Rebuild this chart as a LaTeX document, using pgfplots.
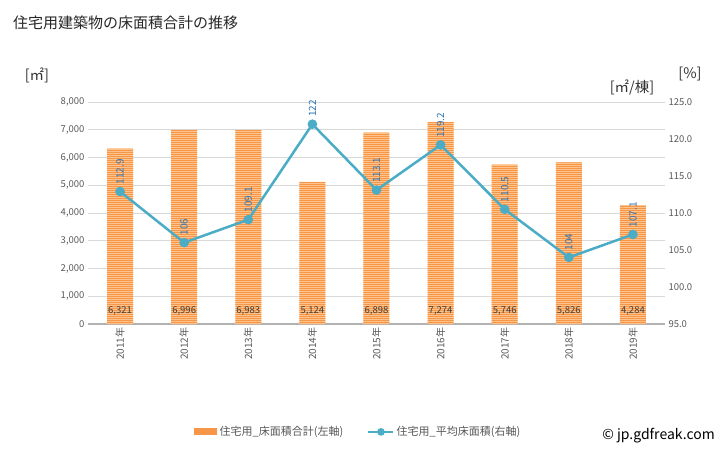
\documentclass[border=0pt]{standalone}
\usepackage{pgfplots}
\pgfplotsset{compat=1.18}
\usepackage{fontspec}
\setmainfont{Noto Sans CJK JP}
\usetikzlibrary{patterns.meta}
\definecolor{barfill}{RGB}{252,196,140}
\definecolor{barline}{RGB}{247,150,70}
\definecolor{linec}{RGB}{75,172,198}
\definecolor{lblc}{RGB}{46,117,182}
\definecolor{tickc}{RGB}{89,89,89}
\definecolor{gridc}{RGB}{217,217,217}
\begin{document}
\begin{tikzpicture}[x=1pt,y=1pt]
\path[use as bounding box] (0,0) rectangle (728,450);
\node[anchor=west, font=\fontsize{15}{17}\selectfont, text=black!85, inner sep=0] at (13,427) {住宅用建築物の床面積合計の推移};
\node[font=\fontsize{14.5}{16}\selectfont, text=black!80, inner sep=0] at (37,375) {[㎡]};
\node[font=\fontsize{14.5}{16}\selectfont, text=black!80, inner sep=0] at (632,363) {[㎡/棟]};
\node[font=\fontsize{14.5}{16}\selectfont, text=black!80, inner sep=0] at (690,376) {[\%]};
\node[anchor=east, font=\fontsize{14}{16}\selectfont, text=black, inner sep=0] at (715,14) {© jp.gdfreak.com};
\begin{axis}[
  at={(88pt,126pt)}, anchor=south west, scale only axis,
  width=577pt, height=222pt,
  xmin=-0.5, xmax=8.5, ymin=0, ymax=8000,
  xtick={0,...,8},
  xticklabels={2011年,2012年,2013年,2014年,2015年,2016年,2017年,2018年,2019年},
  x tick label style={rotate=90, anchor=east, font=\fontsize{10}{11}\selectfont, text=tickc},
  ytick={0,1000,...,8000},
  y tick label style={font=\fontsize{9.5}{11}\selectfont, text=tickc},
  /pgf/number format/assume math mode=true,
  /pgf/number format/1000 sep={,},
  scaled y ticks=false,
  major tick length=0pt,
  ymajorgrids, grid style={gridc, line width=0.8pt},
  axis y line*=left, axis x line*=bottom,
  y axis line style={draw=none},
  x axis line style={draw=black!30, line width=1.2pt},
  clip=false,
  legend columns=2,
  legend style={draw=none, at={(0.468,-0.486)}, anchor=center, font=\fontsize{11}{13}\selectfont, text=tickc, /tikz/every even column/.append style={column sep=22pt}},
]
\addplot[ybar, bar width=26pt, draw=none, fill=barfill,
  postaction={pattern={Lines[angle=0,distance=2pt,line width=0.9pt]}, pattern color=barline},
  legend image code/.code={\fill[barfill] (0pt,-3pt) rectangle (23pt,3pt);
     \draw[barline, line width=0.9pt] (0pt,-2pt)--(23pt,-2pt) (0pt,0pt)--(23pt,0pt) (0pt,2pt)--(23pt,2pt);}]
coordinates {(0,6321) (1,6996) (2,6983) (3,5124) (4,6898) (5,7274) (6,5746) (7,5826) (8,4284)};
\addlegendentry{住宅用\_床面積合計(左軸)}
\addplot[draw=none, mark=none, nodes near coords, point meta=explicit,
  nodes near coords style={anchor=center, font=\fontsize{9.5}{11}\selectfont, text=black!75},
  forget plot]
coordinates {(0,470)[6321] (1,470)[6996] (2,470)[6983] (3,470)[5124] (4,470)[6898] (5,470)[7274] (6,470)[5746] (7,470)[5826] (8,470)[4284]};
\addlegendimage{linec, line width=2.5pt, mark=*, mark size=2.5pt, legend image code/.code={\draw[linec, line width=2.5pt] (0pt,0pt)--(25pt,0pt); \fill[linec] (12.5pt,0pt) circle (2.5pt);}}
\addlegendentry{住宅用\_平均床面積(右軸)}
\end{axis}
\begin{axis}[
  at={(88pt,126pt)}, anchor=south west, scale only axis,
  width=577pt, height=222pt,
  xmin=-0.5, xmax=8.5, ymin=95, ymax=125,
  ytick={95,100,...,125},
  axis y line*=right, axis x line=none,
  y axis line style={draw=none},
  major tick length=0pt,
  y tick label style={font=\fontsize{9.5}{11}\selectfont, text=tickc, /pgf/number format/fixed, /pgf/number format/fixed zerofill, /pgf/number format/precision=1},
  /pgf/number format/assume math mode=true,
  clip=false,
]
\addplot[linec, line width=2.5pt, mark=*, mark size=3.5pt, mark options={fill=linec, draw=linec},
  nodes near coords, point meta=explicit symbolic,
  nodes near coords style={rotate=90, anchor=west, inner xsep=6pt, font=\fontsize{10}{11}\selectfont, text=lblc}]
coordinates {(0,112.9)[112.9] (1,106)[106] (2,109.1)[109.1] (3,122)[122] (4,113.1)[113.1] (5,119.2)[119.2] (6,110.5)[110.5] (7,104)[104] (8,107.1)[107.1]};
\end{axis}
\end{tikzpicture}
\end{document}
